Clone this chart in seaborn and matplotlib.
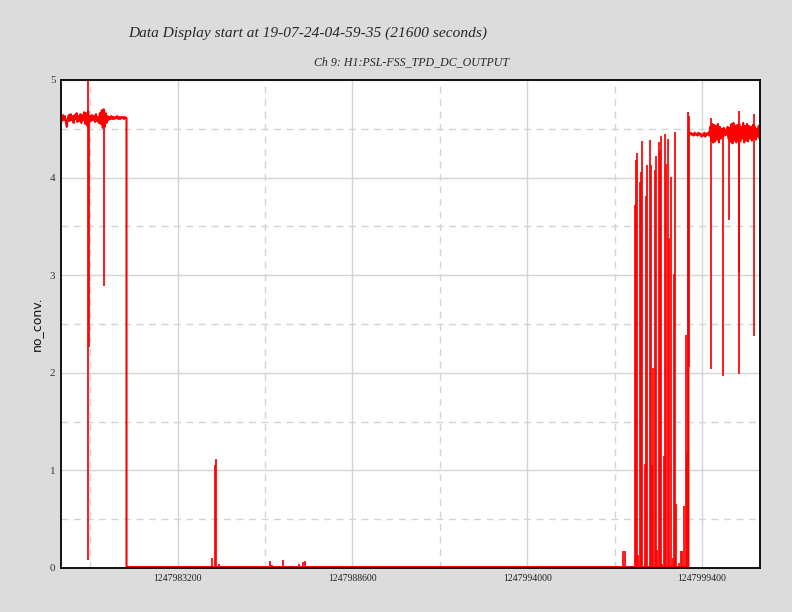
import numpy as np
import pandas as pd
import matplotlib
matplotlib.use("Agg")
import matplotlib.pyplot as plt
from matplotlib.ticker import FixedLocator, FuncFormatter
import seaborn as sns

# GPS start of the display (19-07-24 04:59:35 UTC) and span in seconds
gps_start = 1247979593
span = 21600
sample_step = 30  # seconds between listed band samples

# first stretch of signal near 4.6 (t = 0, 30, ... s after start)
band_start_vals = [4.62, 4.58, 4.64, 4.59, 4.63, 4.57, 4.52, 4.60, 4.64, 4.58,
                   4.65, 4.59, 4.63, 4.56, 4.64, 4.60, 4.66, 4.57, 4.63, 4.58,
                   4.65, 4.56, 4.64, 4.59, 4.67, 4.55, 4.66, 4.53, 4.68, 4.56,
                   4.63, 4.58, 4.64, 4.59, 4.63, 4.57, 4.65, 4.58, 4.62, 4.56,
                   4.66, 4.55, 4.69, 4.51, 4.70, 4.52, 4.66, 4.56, 4.63, 4.59,
                   4.62, 4.60, 4.63, 4.60, 4.62, 4.60, 4.62, 4.61, 4.63, 4.60,
                   4.62, 4.60, 4.62, 4.61, 4.62, 4.60, 4.62, 4.61]
drop_t = 2025          # signal falls to zero here
zero_level = 0.01
rise_t = 19387         # signal comes back here
# last stretch near 4.45 (t = 19400, 19430, ... s after start)
band_end_t0 = 19400
band_end_vals = [4.46, 4.44, 4.46, 4.44, 4.45, 4.43, 4.46, 4.44, 4.45, 4.43,
                 4.46, 4.44, 4.45, 4.42, 4.44, 4.43, 4.46, 4.42, 4.45, 4.44,
                 4.46, 4.43, 4.52, 4.38, 4.55, 4.36, 4.54, 4.37, 4.53, 4.39,
                 4.55, 4.36, 4.52, 4.40, 4.50, 4.42, 4.51, 4.43, 4.49, 4.44,
                 4.52, 4.40, 4.51, 4.37, 4.55, 4.35, 4.56, 4.38, 4.53, 4.36,
                 4.54, 4.39, 4.55, 4.37, 4.52, 4.40, 4.56, 4.36, 4.53, 4.38,
                 4.55, 4.37, 4.53, 4.40, 4.52, 4.38, 4.54, 4.41, 4.52, 4.39,
                 4.50, 4.42, 4.53, 4.40]
band_end_last = 4.47

# short excursions: time after start, low value, high value
spike_t = [840, 870, 1326,
           4659, 4752, 4783, 4876, 6456, 6518, 6850, 7345, 7488, 7531,
           17361, 17423, 17724, 17764, 17795, 17826, 17888, 17919, 17950,
           18043, 18074, 18105, 18189, 18220, 18251, 18303, 18344, 18384,
           18415, 18477, 18508, 18539, 18570, 18632, 18675, 18706, 18768,
           18799, 18861, 18910, 18941, 18972, 19003, 19096, 19158, 19201,
           19251, 19313, 19344, 19387, 19406,
           20087, 20459, 20645, 20936, 20955, 21420]
spike_lo = [0.08, 2.26, 2.89,
            0, 0, 0, 0, 0, 0, 0, 0, 0, 0,
            0, 0, 0, 0, 0, 0, 0, 0, 0,
            0, 0, 0, 0, 0, 0, 0, 0, 0,
            0, 0, 0, 0, 0, 0, 0, 0, 0,
            0, 0, 0, 0, 0, 0, 0, 0, 0,
            0, 0, 0, 0, 2.06,
            2.04, 1.97, 3.57, 3.03, 1.99, 2.38]
spike_hi = [5.0, 4.62, 4.62,
            0.10, 1.055, 1.12, 0.04, 0.07, 0.03, 0.08, 0.04, 0.06, 0.07,
            0.17, 0.17, 3.72, 4.18, 4.25, 0.13, 3.95, 4.06, 4.37,
            1.07, 3.81, 4.13, 4.39, 4.13, 1.06, 2.05, 4.08, 4.22,
            0.18, 4.36, 4.27, 4.43, 0.04, 1.15, 4.45, 4.14, 4.40,
            3.38, 4.01, 0.10, 3.01, 4.47, 0.66, 0.05, 0.17, 0.17,
            0.64, 2.39, 1.19, 4.67, 4.63,
            4.61, 4.50, 4.50, 4.50, 4.68, 4.65]

# build the continuous trace
t_start = list(np.arange(len(band_start_vals)) * sample_step) + [drop_t]
v_start = band_start_vals + [band_start_vals[-1]]
t_end = list(band_end_t0 + np.arange(len(band_end_vals)) * sample_step) + [span]
v_end = band_end_vals + [band_end_last]
t_all = t_start + [drop_t, rise_t, rise_t] + t_end
v_all = v_start + [zero_level, zero_level, band_end_vals[0]] + v_end
trace = pd.DataFrame({'gps': gps_start + np.array(t_all, dtype=float), 'value': v_all})

sns.set_style('white')
fig = plt.figure(figsize=(7.92, 6.12), dpi=100, facecolor='#dcdcdc')
ax = fig.add_axes([0.077, 0.0719, 0.8826, 0.7974])
ax.set_facecolor('white')

sns.lineplot(data=trace, x='gps', y='value', estimator=None, sort=False,
             color='red', linewidth=1.5, ax=ax)
ax.vlines(gps_start + np.array(spike_t, dtype=float), spike_lo, spike_hi,
          color='red', linewidth=1.25)

ax.set_xlim(gps_start, gps_start + span)
ax.set_ylim(0, 5)

xmaj = [1247983200, 1247988600, 1247994000, 1247999400]
xmin = [1247980500, 1247985900, 1247991300, 1247996700]
ax.xaxis.set_major_locator(FixedLocator(xmaj))
ax.xaxis.set_minor_locator(FixedLocator(xmin))
ax.xaxis.set_major_formatter(FuncFormatter(lambda v, p: '%d' % round(v)))
ax.yaxis.set_major_locator(FixedLocator([0, 1, 2, 3, 4, 5]))
ax.yaxis.set_minor_locator(FixedLocator([0.5, 1.5, 2.5, 3.5, 4.5]))
ax.grid(which='major', color='#d4d4d4', linestyle='-', linewidth=1.0)
ax.grid(which='minor', color='#d4d4d4', linestyle=(0, (5, 4)), linewidth=1.0)
ax.set_axisbelow(True)
ax.tick_params(which='both', length=0)
ax.tick_params(axis='x', pad=4, labelsize=7, labelcolor='#222222')
ax.tick_params(axis='y', pad=4, labelsize=8, labelcolor='#333333')
for lab in ax.get_xticklabels() + ax.get_yticklabels():
    lab.set_family('Liberation Serif')
for s in ax.spines.values():
    s.set_color('black')
    s.set_linewidth(1.3)

ax.set_xlabel('')
ax.set_ylabel('no_conv.', fontsize=9, labelpad=5, color='#111111')

fig.text(0.389, 1 - 33 / 612, 'Data Display start at 19-07-24-04-59-35 (21600 seconds)',
         ha='center', va='center', family='Liberation Serif', style='italic', fontsize=11.1)
fig.text(0.519, 1 - 62 / 612, 'Ch 9: H1:PSL-FSS_TPD_DC_OUTPUT',
         ha='center', va='center', family='Liberation Serif', style='italic', fontsize=8.6)

fig.savefig('out.png', dpi=100, facecolor=fig.get_facecolor())
plt.close(fig)
